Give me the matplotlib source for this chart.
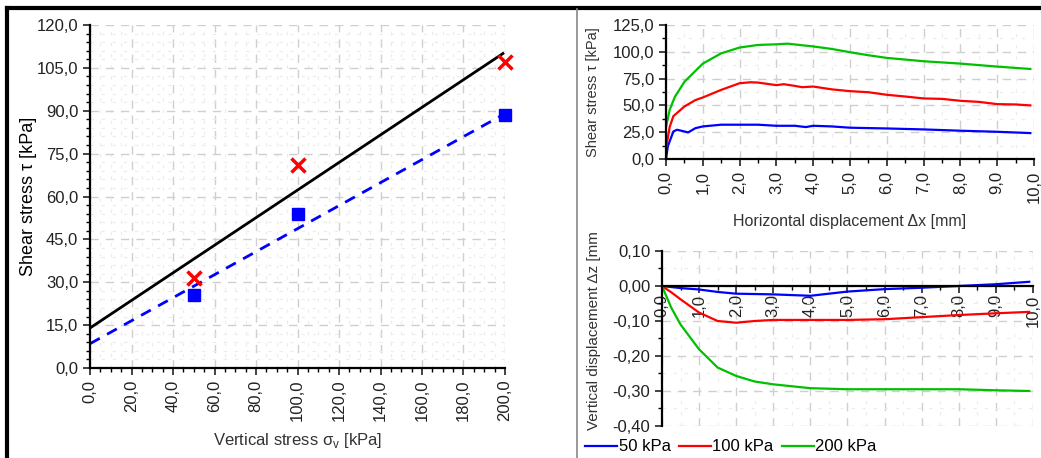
import matplotlib.pyplot as plt
import numpy as np
from matplotlib.ticker import MultipleLocator, FuncFormatter
from matplotlib.lines import Line2D
from matplotlib.transforms import Bbox, TransformedBbox

plt.rcParams['font.family'] = ['Liberation Sans', 'DejaVu Sans']

# failure envelope data
sigma = [50, 100, 200]
tau_peak = [31.5, 71.0, 107.0]
tau_resid = [25.5, 54.0, 88.5]
peak_c, peak_slope = 14.0, 0.4825      # intercept [kPa], tan(phi)
resid_c, resid_slope = 8.5, 0.4025

# shear stress vs horizontal displacement
dx_50 = [0, 0.05, 0.2, 0.3, 0.5, 0.6, 0.8, 1.0, 1.5, 2.0, 2.5, 3.0, 3.5, 3.8, 4.0, 4.5, 5.0, 6.0, 7.0, 8.0, 9.0, 9.9]
tau_50 = [0, 12, 25.7, 27.3, 25.7, 24.8, 28.8, 30.4, 32, 32, 32, 31, 31, 29.8, 31, 30.4, 29.2, 28.5, 27.6, 26.4, 25.4, 24.2]
dx_100 = [0, 0.1, 0.2, 0.5, 0.8, 1.0, 1.5, 2.0, 2.3, 2.5, 3.0, 3.2, 3.5, 3.7, 4.0, 4.5, 5.0, 5.5, 6.0, 6.5, 7.0, 7.5, 8.0, 8.5, 9.0, 9.5, 9.9]
tau_100 = [10, 30, 40, 49, 55, 57.4, 64.5, 70.7, 71.6, 71.3, 68.9, 69.8, 68.2, 67, 67.6, 65, 63.3, 62.3, 59.9, 58.3, 56.5, 56.1, 54.3, 53.3, 51.2, 50.9, 50]
dx_200 = [0, 0.1, 0.24, 0.5, 1.0, 1.5, 2.0, 2.5, 3.0, 3.3, 4.0, 4.5, 5.0, 5.5, 6.0, 7.0, 8.0, 9.0, 9.9]
tau_200 = [30, 46, 58, 72, 89, 98.6, 104, 106.4, 107, 107.6, 105, 102.7, 99.6, 96.8, 94.3, 91.2, 89, 86.2, 84]

# vertical vs horizontal displacement
dxz = [0, 0.25, 0.5, 1.0, 1.5, 2.0, 2.5, 3.0, 4.0, 5.0, 6.0, 7.0, 8.0, 9.0, 9.9]
dz_50 = [0, -0.003, -0.006, -0.010, -0.017, -0.022, -0.023, -0.024, -0.028, -0.016, -0.009, -0.005, 0.0, 0.005, 0.012]
dz_100 = [0, -0.018, -0.038, -0.076, -0.100, -0.105, -0.100, -0.097, -0.097, -0.097, -0.095, -0.089, -0.083, -0.078, -0.074]
dz_200 = [0, -0.062, -0.110, -0.181, -0.233, -0.257, -0.273, -0.281, -0.292, -0.295, -0.295, -0.295, -0.295, -0.298, -0.300]

labels = ['50 kPa', '100 kPa', '200 kPa']
colors = ['#0000ff', '#ff0000', '#00c000']


def comma(dec):
    return FuncFormatter(lambda v, p: f"{v:.{dec}f}".replace('.', ','))


def style(ax, dec_x, dec_y):
    for s in ['top', 'right']:
        ax.spines[s].set_visible(False)
    for s in ['left', 'bottom']:
        ax.spines[s].set_linewidth(1.6)
    ax.xaxis.set_major_formatter(comma(dec_x))
    ax.yaxis.set_major_formatter(comma(dec_y))
    ax.tick_params(which='major', direction='out', length=5, width=1.2, labelsize=12, colors='#222222')
    ax.tick_params(which='minor', direction='out', length=3, width=1)
    ax.tick_params(axis='x', labelrotation=90)
    ax.grid(which='major', color='#cfcfcf', linestyle=(0, (6, 5)), linewidth=1)
    ax.grid(which='minor', color='#ececec', linestyle=(0, (3, 7)), linewidth=0.8)
    ax.set_axisbelow(True)


fig = plt.figure(figsize=(10.41, 4.58), dpi=100)

# left: failure envelope
ax1 = fig.add_axes([0.0865, 0.1965, 0.3986, 0.7489])
xs = np.array([0, 199])
ax1.plot(xs, peak_c + peak_slope * xs, color='black', lw=2)
ax1.plot(xs, resid_c + resid_slope * xs, color='#0000ff', lw=2, linestyle=(0, (4, 3)))
ax1.plot(sigma, tau_peak, 'x', color='#ff0000', ms=10, mew=2.5, clip_on=False)
ax1.plot(sigma, tau_resid, 's', color='#0000ff', ms=8, clip_on=False)
ax1.set_xlim(0, 200)
ax1.set_ylim(0, 120)
ax1.xaxis.set_major_locator(MultipleLocator(20))
ax1.xaxis.set_minor_locator(MultipleLocator(5))
ax1.yaxis.set_major_locator(MultipleLocator(15))
ax1.yaxis.set_minor_locator(MultipleLocator(3))
style(ax1, 1, 1)
ax1.set_ylabel('Shear stress τ [kPa]', fontsize=13)
ax1.set_xlabel('Vertical stress σ$_\\mathregular{v}$ [kPa]', fontsize=12, color='#333333')
ax1.xaxis.set_label_coords(0.5, -0.185)
ax1.yaxis.set_label_coords(-0.128, 0.5)

# top right: shear stress vs horizontal displacement
ax2 = fig.add_axes([0.6398, 0.6528, 0.3535, 0.2926])
for x, y, c in zip([dx_50, dx_100, dx_200], [tau_50, tau_100, tau_200], colors):
    ax2.plot(x, y, color=c, lw=1.6)
ax2.set_xlim(0, 10)
ax2.set_ylim(0, 125)
ax2.xaxis.set_major_locator(MultipleLocator(1))
ax2.xaxis.set_minor_locator(MultipleLocator(0.5))
ax2.yaxis.set_major_locator(MultipleLocator(25))
ax2.yaxis.set_minor_locator(MultipleLocator(12.5))
style(ax2, 1, 1)
ax2.set_ylabel('Shear stress τ [kPa]', fontsize=10.5, color='#333333')
ax2.set_xlabel('Horizontal displacement Δx [mm]', fontsize=11.5, color='#333333')
ax2.yaxis.set_label_coords(-0.18, 0.5)
ax2.xaxis.set_label_coords(0.5, -0.41)

# bottom right: vertical vs horizontal displacement
ax3 = fig.add_axes([0.6359, 0.0699, 0.3564, 0.3821])
for y, c, lab in zip([dz_50, dz_100, dz_200], colors, labels):
    ax3.plot(dxz, y, color=c, lw=1.6, label=lab)
ax3.set_xlim(0, 10)
ax3.set_ylim(-0.4, 0.1)
ax3.xaxis.set_major_locator(MultipleLocator(1))
ax3.xaxis.set_minor_locator(MultipleLocator(0.5))
ax3.yaxis.set_major_locator(MultipleLocator(0.1))
ax3.yaxis.set_minor_locator(MultipleLocator(0.05))
style(ax3, 1, 2)
ax3.spines['bottom'].set_position(('data', 0))
ax3.tick_params(axis='x', pad=1)
yl = ax3.set_ylabel('Vertical displacement Δz [mm]', fontsize=11, color='#333333')
ax3.yaxis.set_label_coords(-0.165, 0.56)
yl.set_clip_box(TransformedBbox(Bbox([[0.5, 0.0], [1.0, 1 - 232 / 458]]), fig.transFigure))
yl.set_clip_on(True)

fig.legend(loc='lower left', bbox_to_anchor=(0.548, -0.025), ncol=3, frameon=False,
           fontsize=12, handlelength=1.9, handletextpad=0.1, columnspacing=0.5)

# panel frame
fig.add_artist(Line2D([0.0067, 1.0], [0.982, 0.982], color='black', lw=3, transform=fig.transFigure))
fig.add_artist(Line2D([0.0067, 0.0067], [0.0, 0.982], color='black', lw=3, transform=fig.transFigure))
fig.add_artist(Line2D([0.554, 0.554], [0.0, 0.98], color='#888888', lw=1.2, transform=fig.transFigure))

fig.savefig('out.png', dpi=100)
